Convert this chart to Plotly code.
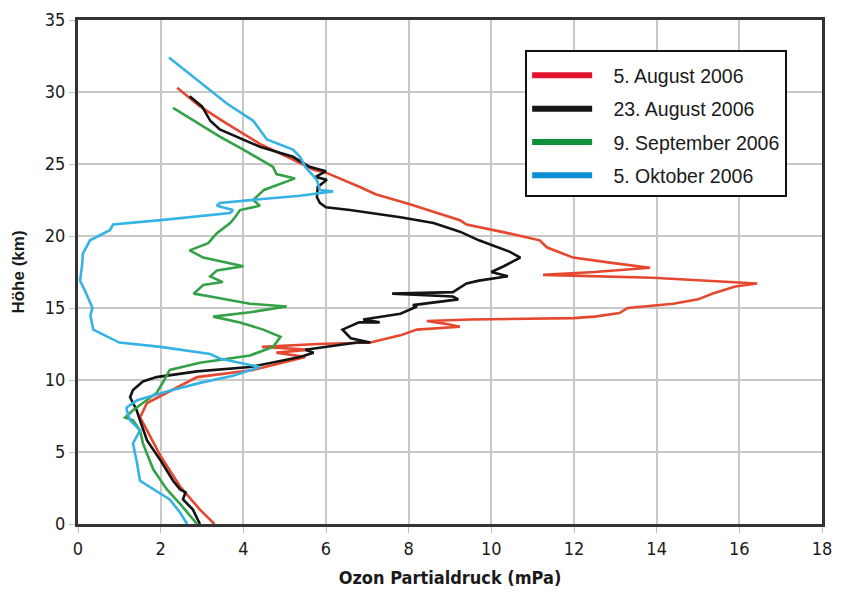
import plotly.graph_objects as go

# ---- Data (ozone partial pressure in mPa vs altitude in km) ----
aug05_x = [3.3, 2.95, 2.47, 2.0, 1.67, 1.5, 1.67, 2.15, 2.7, 2.88, 4.24, 4.96, 5.5, 4.8, 5.6, 4.45, 5.8, 7.07,
           7.8, 8.2, 9.24, 8.9, 8.44, 9.5, 11.98, 12.5, 13.1, 13.3, 14.4, 15.0, 15.36, 15.9, 16.43, 13.9, 11.25,
           12.5, 13.84, 13.0, 11.98, 11.35, 11.17, 10.4, 9.4, 9.24, 8.03, 7.2, 6.82, 6.0, 5.7, 5.2, 4.4, 3.6,
           2.95, 2.4]
aug05_y = [0.0, 1.0, 2.6, 4.7, 6.5, 7.4, 8.4, 9.1, 9.9, 10.2, 10.7, 11.2, 11.6, 11.9, 12.1, 12.3, 12.5, 12.6,
           13.1, 13.5, 13.7, 13.9, 14.1, 14.2, 14.3, 14.4, 14.65, 15.0, 15.3, 15.6, 16.0, 16.5, 16.7, 17.1, 17.3,
           17.5, 17.8, 18.1, 18.5, 19.2, 19.7, 20.2, 20.8, 21.1, 22.2, 22.9, 23.4, 24.4, 24.6, 25.3, 26.4, 27.8,
           29.0, 30.3]

aug23_x = [2.95, 2.78, 2.54, 2.6, 2.47, 2.3, 2.0, 1.67, 1.5, 1.42, 1.26, 1.33, 1.57, 1.9, 2.88, 4.16, 5.37, 5.7,
           5.5, 6.0, 6.75, 7.07, 6.6, 6.4, 6.8, 7.3, 6.9, 7.8, 8.2, 8.1, 9.2, 9.07, 7.6, 9.07, 9.4, 9.7, 10.4,
           10.0, 10.3, 10.7, 10.45, 9.7, 9.24, 8.6, 7.8, 6.58, 6.0, 5.85, 5.78, 5.8, 6.02, 5.75, 6.0, 5.6, 5.2,
           4.4, 3.43, 3.2, 3.0, 2.7]
aug23_y = [0.0, 1.0, 1.7, 2.2, 2.4, 3.0, 4.4, 5.8, 7.2, 7.9, 8.8, 9.3, 9.9, 10.2, 10.6, 10.9, 11.6, 11.9,
           12.1, 12.3, 12.6, 12.6, 12.9, 13.5, 14.0, 14.0, 14.2, 14.6, 15.1, 15.2, 15.6, 15.8, 16.0, 16.1, 16.7,
           16.9, 17.2, 17.5, 17.9, 18.5, 18.9, 19.7, 20.3, 20.9, 21.3, 21.8, 22.0, 22.3, 22.7, 23.4, 23.9, 24.1,
           24.5, 24.8, 25.5, 26.2, 27.4, 28.0, 29.0, 29.7]

sep09_x = [2.88, 2.47, 2.15, 1.82, 1.57, 1.5, 1.33, 1.14, 1.33, 1.57, 1.9, 2.07, 2.22, 2.95, 4.16, 4.72, 4.9,
           4.48, 3.92, 3.27, 4.16, 5.05, 4.16, 3.2, 2.8, 3.03, 3.5, 3.2, 3.36, 4.0, 3.68, 3.03, 2.7, 3.15, 3.36,
           3.68, 3.8, 3.92, 4.4, 4.24, 4.5, 5.25, 4.8, 4.72, 4.0, 3.43, 2.3]
sep09_y = [0.0, 1.4, 2.4, 3.8, 5.6, 6.5, 7.2, 7.4, 7.9, 8.4, 9.1, 9.9, 10.7, 11.2, 11.7, 12.3, 13.0,
           13.5, 14.0, 14.4, 14.7, 15.1, 15.3, 15.8, 16.0, 16.6, 16.8, 17.2, 17.6, 17.9, 18.1, 18.5, 19.0, 19.5, 20.2,
           20.9, 21.3, 21.8, 22.1, 22.5, 23.2, 24.0, 24.3, 24.8, 26.0, 26.9, 28.9]

okt05_x = [2.64, 2.47, 2.22, 1.82, 1.5, 1.43, 1.33, 1.5, 1.26, 1.18, 1.18, 1.43, 2.15, 2.95, 3.75, 4.4, 3.43,
           3.2, 2.0, 1.0, 0.53, 0.37, 0.3, 0.35, 0.2, 0.05, 0.1, 0.12, 0.29, 0.77, 0.85, 2.0, 3.68, 3.75, 3.36,
           3.43, 5.37, 6.17, 5.85, 5.78, 5.5, 5.37, 5.2, 4.57, 4.24, 3.6, 2.2]
okt05_y = [0.0, 0.8, 1.7, 2.4, 3.0, 4.2, 5.6, 6.5, 7.2, 7.9, 8.1, 8.6, 9.2, 9.8, 10.3, 10.9, 11.5,
           11.8, 12.3, 12.6, 13.3, 13.5, 14.5, 15.0, 16.0, 16.9, 18.0, 18.8, 19.7, 20.4, 20.8, 21.1, 21.6, 21.8, 22.1,
           22.3, 22.8, 23.1, 23.2, 23.9, 24.8, 25.5, 26.0, 26.7, 28.0, 29.2, 32.4]

series_names = ["5. August 2006", "23. August 2006", "9. September 2006", "5. Oktober 2006"]
curve_colors = ["#e5482f", "#141414", "#33a146", "#36b2e4"]
legend_colors = ["#e3132d", "#161616", "#0f913a", "#0a8fd4"]

x_ticks = [0, 2, 4, 6, 8, 10, 12, 14, 16, 18]
y_ticks = [0, 5, 10, 15, 20, 25, 30, 35]

series_x = [aug05_x, aug23_x, sep09_x, okt05_x]
series_y = [aug05_y, aug23_y, sep09_y, okt05_y]

fig = go.Figure()
for xs, ys, c in zip(series_x, series_y, curve_colors):
    fig.add_trace(go.Scatter(x=xs, y=ys, mode="lines", line=dict(color=c, width=2.6),
                             showlegend=False, hoverinfo="skip"))
# legend entries (thicker samples)
for i, (name, c) in enumerate(zip(series_names, legend_colors)):
    fig.add_trace(go.Scatter(x=[None], y=[None], mode="lines", name="&nbsp;&nbsp;&nbsp;" + name,
                             line=dict(color=c, width=6), legendgroup=f"g{i}"))

narrow = "DejaVu Sans Condensed, Liberation Sans Narrow, Arial Narrow, Liberation Sans, sans-serif"

# page body has an 8px margin, so the figure is 8px smaller than the window
fig.update_layout(
    width=833, height=584,
    margin=dict(l=70, r=19, t=12, b=68),
    paper_bgcolor="white", plot_bgcolor="white",
    showlegend=True,
    legend=dict(x=0.601, y=0.94, xanchor="left", yanchor="top",
                bgcolor="white", bordercolor="#111111", borderwidth=2,
                font=dict(family="Liberation Sans, Arial, sans-serif", size=19.5, color="#1a1a1a"),
                title=dict(text="&nbsp;", font=dict(size=3)),
                tracegroupgap=5, itemwidth=60),
    xaxis=dict(range=[0, 18], tickvals=x_ticks, showgrid=True, gridcolor="#c9c9c9", gridwidth=2,
               showline=True, mirror=True, linecolor="#333333", linewidth=3,
               ticks="outside", ticklen=6, tickcolor="#bdbdbd", tickwidth=1,
               tickfont=dict(family=narrow, size=18, color="#1a1a1a"),
               zeroline=False, automargin=False,
               title=dict(text="<b>Ozon Partialdruck (mPa)</b>", standoff=14,
                          font=dict(family=narrow, size=18, color="#1a1a1a"))),
    yaxis=dict(range=[0, 35], tickvals=y_ticks, showgrid=True, gridcolor="#c9c9c9", gridwidth=2,
               showline=True, mirror=True, linecolor="#333333", linewidth=3,
               ticks="outside", ticklen=6, tickcolor="#bdbdbd", tickwidth=1,
               tickfont=dict(family=narrow, size=18, color="#1a1a1a"),
               zeroline=False, automargin=False,
               title=dict(text="<b>Höhe (km)</b>", standoff=16,
                          font=dict(family="Liberation Sans, Arial, sans-serif", size=17, color="#1a1a1a"))),
)

fig.write_html("out.html")
